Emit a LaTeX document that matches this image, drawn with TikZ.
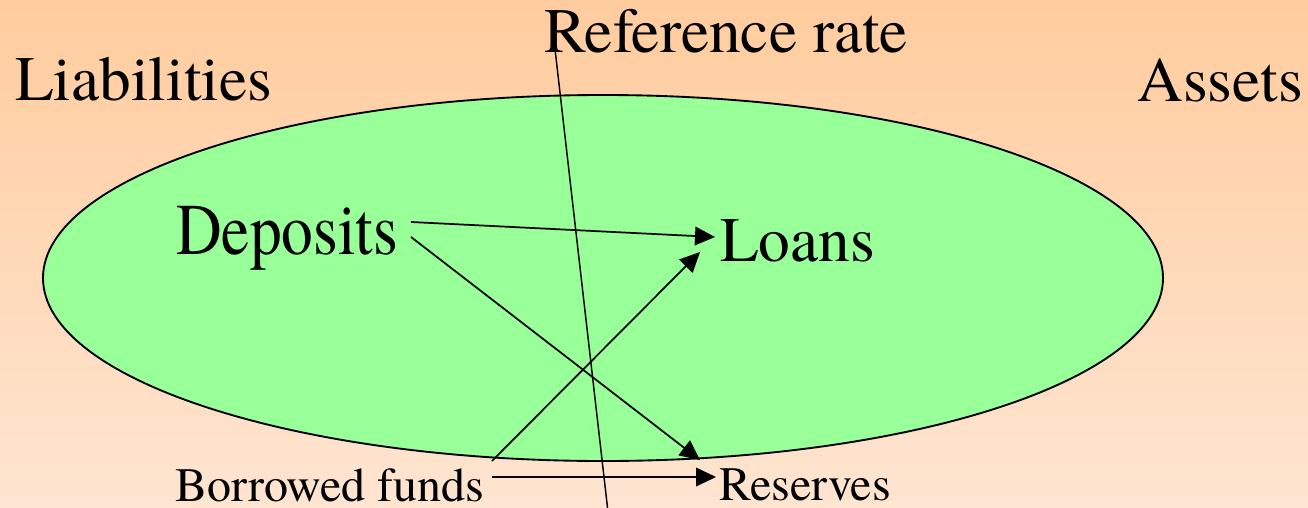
\documentclass[tikz,border=0pt]{standalone}
\usepackage{fontspec}
\setmainfont{TeX Gyre Termes}
\newfontfamily\tms{TeX Gyre Termes}
\usetikzlibrary{arrows.meta}
\definecolor{bgtop}{RGB}{255,204,158}
\definecolor{bgbot}{RGB}{254,229,209}
\definecolor{ovalgreen}{RGB}{153,255,153}
\tikzset{
  big/.style={font=\tms\fontsize{47.5}{50}\selectfont, inner sep=0pt, anchor=base west},
  small/.style={font=\tms\fontsize{36}{38}\selectfont, inner sep=0pt, anchor=base west},
  flow/.style={line width=1.3pt, -{Triangle[length=15pt,width=14pt]}},
}
\begin{document}
\begin{tikzpicture}[x=0.75pt,y=-0.75pt]
\useasboundingbox (0,0) rectangle (1308,507);
\shade[top color=bgtop, bottom color=bgbot] (0,0) rectangle (1308,507);
\draw[fill=ovalgreen, line width=1.4pt] (603,278) ellipse [x radius=560, y radius=183];
\node[big] (liab) at (15,100) {Liabilities};
\node[big] (assets) at (1137,101) {Assets};
\node[big] (ref) at (544,52) {Reference rate};
\node[big] (dep) at (176,254) {\scalebox{1}[1.15]{Deposits}};
\node[big] (loans) at (720,261) {Loans};
\node[small] (borrow) at (175,501) {Borrowed funds};
\node[small] (res) at (719,500) {Reserves};
% connector endpoints
\coordinate (refTop) at (555,49);
\coordinate (refBot) at (608,512);
\coordinate (depA) at (411,222);
\coordinate (depB) at (411,237);
\coordinate (loanA) at (715,237);
\coordinate (loanB) at (700,252);
\coordinate (resA) at (700,460);
\coordinate (resB) at (716,477);
\coordinate (borA) at (492,461);
\coordinate (borB) at (492,477);
\draw[line width=1.1pt] (refTop) -- (refBot);
\draw[flow] (depA) -- (loanA);
\draw[flow] (depB) -- (resA);
\draw[flow] (borA) -- (loanB);
\draw[flow] (borB) -- (resB);
\end{tikzpicture}
\end{document}
